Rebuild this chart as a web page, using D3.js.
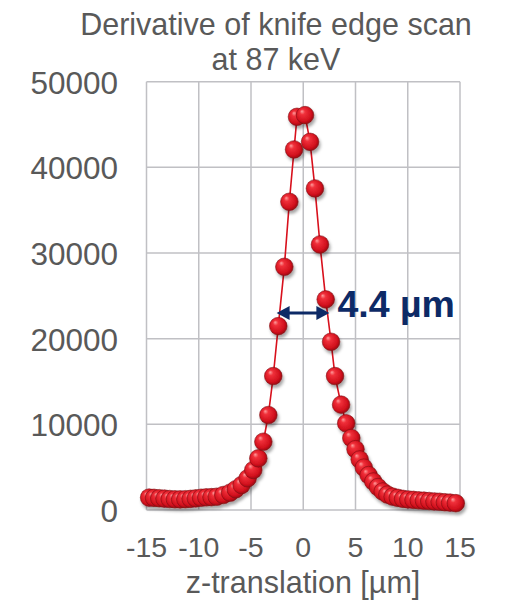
<!DOCTYPE html>
<html>
<head>
<meta charset="utf-8">
<script src="https://cdn.jsdelivr.net/npm/d3@7"></script>
<style>
html,body{margin:0;padding:0;background:#fff;}
svg{display:block;}
text{font-family:"Liberation Sans",Arial,sans-serif;}
</style>
</head>
<body>
<svg id="chart" width="508" height="603"></svg>
<script>
// z-translation positions [µm]
const zPositions = [
  -14.75, -14.28, -13.78, -13.28, -12.78, -12.28, -11.78, -11.28, -10.78, -10.28,
  -9.78, -9.28, -8.78, -8.28, -7.65, -7.0, -6.46, -5.9, -5.32, -4.78,
  -4.3, -3.82, -3.34, -2.87, -2.39, -1.81, -1.33, -0.88, -0.6, 0.17,
  0.65, 1.12, 1.6, 2.15, 2.66, 3.04, 3.62, 4.11, 4.6, 5.0,
  5.4, 5.8, 6.25, 6.7, 7.15, 7.6, 8.05, 8.55, 9.05, 9.55,
  10.05, 10.55, 11.05, 11.55, 12.05, 12.55, 13.05, 13.55, 14.05, 14.6
];
// derivative values
const derivValues = [
  1450, 1420, 1380, 1330, 1280, 1250, 1240, 1260, 1300, 1360,
  1430, 1480, 1500, 1550, 1750, 2020, 2420, 2920, 3700, 4670,
  6030, 7970, 11090, 15640, 21470, 28390, 35980, 42090, 45900, 46100,
  42980, 37540, 31000, 24590, 19640, 15640, 12300, 10120, 8400, 7100,
  5900, 4950, 4080, 3330, 2680, 2160, 1800, 1560, 1420, 1300,
  1230, 1180, 1130, 1090, 1050, 1000, 960, 910, 860, 800
];
const xTicks = [-15, -10, -5, 0, 5, 10, 15];
const yTicks = [0, 10000, 20000, 30000, 40000, 50000];
const titleLines = ["Derivative of knife edge scan", "at 87 keV"];
const xAxisTitle = "z-translation [µm]";
// FWHM annotation
const fwhmLeft = -2.55, fwhmRight = 2.5, fwhmLevel = 23000;
const fwhmLabel = "4.4 µm";

const svg = d3.select("#chart");
const x = d3.scaleLinear().domain([-15, 15]).range([146.5, 460]);
const y = d3.scaleLinear().domain([0, 50000]).range([510, 81.7]);

const defs = svg.append("defs");
const grad = defs.append("radialGradient").attr("id", "ball")
  .attr("cx", "45%").attr("cy", "45%").attr("r", "60%")
  .attr("fx", "32%").attr("fy", "28%");
grad.append("stop").attr("offset", "0%").attr("stop-color", "#ff9c9c");
grad.append("stop").attr("offset", "25%").attr("stop-color", "#f0303a");
grad.append("stop").attr("offset", "75%").attr("stop-color", "#d0101c");
grad.append("stop").attr("offset", "100%").attr("stop-color", "#8a0810");
const f = defs.append("filter").attr("id", "shadow")
  .attr("x", "-50%").attr("y", "-50%").attr("width", "200%").attr("height", "200%");
f.append("feDropShadow").attr("dx", 1.5).attr("dy", 3).attr("stdDeviation", 1.8)
  .attr("flood-color", "#000").attr("flood-opacity", 0.35);

// gridlines
svg.append("g").selectAll("line.v").data(xTicks).join("line")
  .attr("x1", d => x(d)).attr("x2", d => x(d))
  .attr("y1", y(50000)).attr("y2", y(0))
  .attr("stroke", "#c0c0c4").attr("stroke-width", 1.5);
svg.append("g").selectAll("line.h").data(yTicks).join("line")
  .attr("x1", x(-15)).attr("x2", x(15))
  .attr("y1", d => y(d)).attr("y2", d => y(d))
  .attr("stroke", "#c0c0c4").attr("stroke-width", 1.5);

// tick labels
svg.append("g").selectAll("text").data(yTicks).join("text")
  .attr("x", 118).attr("y", d => y(d) + 12)
  .attr("text-anchor", "end").attr("font-size", 31.5).attr("fill", "#595959")
  .text(d => d);
svg.append("g").selectAll("text").data(xTicks).join("text")
  .attr("x", d => x(d)).attr("y", 557)
  .attr("text-anchor", "middle").attr("font-size", 28.5).attr("fill", "#595959")
  .text(d => d);

// titles
svg.append("g").selectAll("text").data(titleLines).join("text")
  .attr("x", 276).attr("y", (d, i) => 35 + i * 35)
  .attr("text-anchor", "middle").attr("font-size", 30.5).attr("fill", "#595959")
  .text(d => d);
svg.append("text").attr("x", 303).attr("y", 593)
  .attr("text-anchor", "middle").attr("font-size", 30.5).attr("fill", "#595959")
  .text(xAxisTitle);

// data
const pts = zPositions.map((z, i) => ({ z, v: derivValues[i] }));
const line = d3.line().x(d => x(d.z)).y(d => y(d.v));
svg.append("path").datum(pts).attr("d", line)
  .attr("fill", "none").attr("stroke", "#d8101c").attr("stroke-width", 1.6);
svg.append("g").attr("filter", "url(#shadow)").selectAll("circle").data(pts).join("circle")
  .attr("cx", d => x(d.z)).attr("cy", d => y(d.v)).attr("r", 8.8)
  .attr("fill", "url(#ball)").attr("stroke", "#7a0a10").attr("stroke-width", 0.8)
  .attr("stroke-opacity", 0.7);

// FWHM arrow
const navy = "#0d2a66";
const ax1 = x(fwhmLeft), ax2 = x(fwhmRight), ay = y(fwhmLevel);
svg.append("line").attr("x1", ax1 + 8).attr("x2", ax2 - 8).attr("y1", ay).attr("y2", ay)
  .attr("stroke", navy).attr("stroke-width", 3);
svg.append("path").attr("d", `M${ax1},${ay} L${ax1 + 13},${ay - 7} L${ax1 + 13},${ay + 7} Z`).attr("fill", navy);
svg.append("path").attr("d", `M${ax2},${ay} L${ax2 - 13},${ay - 7} L${ax2 - 13},${ay + 7} Z`).attr("fill", navy);
svg.append("text").attr("x", ax2 + 8).attr("y", ay + 4)
  .attr("font-size", 37.5).attr("font-weight", "bold").attr("fill", navy)
  .text(fwhmLabel);
</script>
</body>
</html>
